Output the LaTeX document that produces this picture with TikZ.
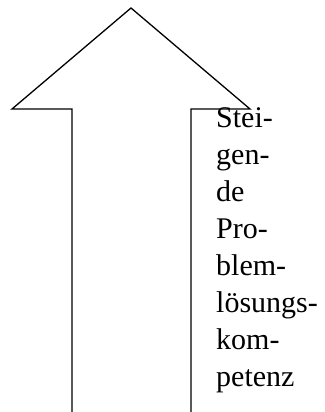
\documentclass[tikz,border=0pt]{standalone}
\usepackage{fontspec}
\setmainfont{Liberation Serif}
\begin{document}
\begin{tikzpicture}[x=1pt,y=-1pt,
  arrowline/.style={draw=black,line width=1.3pt,line join=miter},
  label/.style={font=\fontsize{30}{37}\selectfont,align=left,inner sep=0pt,anchor=north west}]
\useasboundingbox (0,0) rectangle (324,412);
\draw[arrowline] (72,412) -- (72,109) -- (12,109) -- (131,8) -- (250,109) -- (191,109) -- (191,412);
\node[label] (txt) at (216,107.5) {Stei-\\gen-\\de\\Pro-\\blem-\\lösungs-\\kom-\\petenz};
\end{tikzpicture}
\end{document}
